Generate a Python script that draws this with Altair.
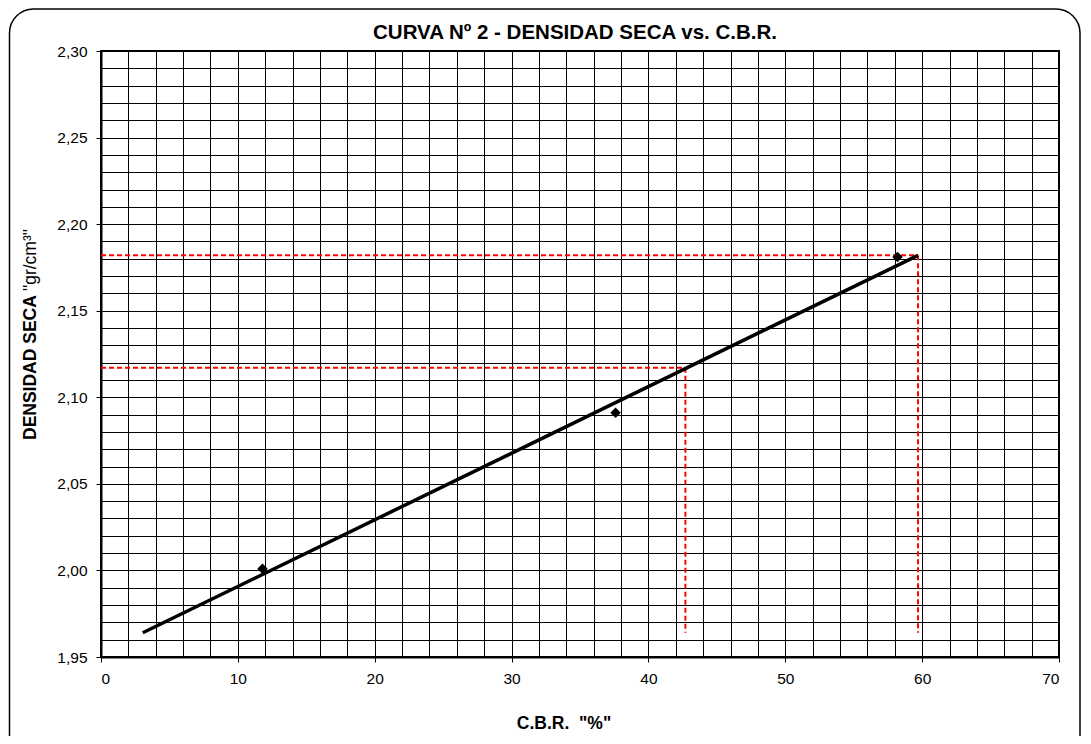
import altair as alt
import pandas as pd

# Measured points
cbr_pts = [11.8, 37.6, 58.2]
dens_pts = [2.001, 2.091, 2.181]

# Fitted line end points
fit_x = [3.05, 59.7]
fit_y = [1.964, 2.182]

# Red dashed reference lines (x, x2, y, y2)
ref_x = [0.0, 59.7, 0.0, 42.7]
ref_x2 = [59.7, 59.7, 42.7, 42.7]
ref_y = [2.182, 2.182, 2.117, 2.117]
ref_y2 = [2.182, 1.964, 2.117, 1.964]

x_grid = [i * 2 for i in range(36)]
y_grid = [round(1.95 + 0.01 * i, 2) for i in range(36)]

title_text = "CURVA Nº 2 - DENSIDAD SECA vs. C.B.R."
ytitle_bold = "DENSIDAD SECA"
ytitle_norm = '"gr/cm³"'
xtitle_text = 'C.B.R.\u00a0\u00a0"%"'

FONT = "Liberation Sans"
W, H = 958, 606

pts = pd.DataFrame({"x": cbr_pts, "y": dens_pts})
fit = pd.DataFrame({"x": fit_x, "y": fit_y})
refs = pd.DataFrame({"x": ref_x, "x2": ref_x2, "y": ref_y, "y2": ref_y2})
one = pd.DataFrame({"a": [0]})

xscale = alt.Scale(domain=[0, 70], nice=False, zero=False)
yscale = alt.Scale(domain=[1.95, 2.30], nice=False, zero=False)

YMAJ = "abs(datum.value*20 - round(datum.value*20)) < 0.000001"

xaxis = alt.Axis(
    values=x_grid, grid=True, gridColor="black", gridWidth=1, gridOpacity=1,
    labelExpr="datum.value % 10 == 0 ? datum.label : ''",
    labelOverlap=False, labelFont=FONT, labelFontSize=15.5, labelColor="black",
    labelPadding=9, tickSize=5, tickColor="black", tickWidth=1,
    tickOpacity={"condition": {"test": "datum.value % 10 == 0", "value": 1}, "value": 0},
    domainColor="black", domainWidth=2, title=None,
)
yaxis = alt.Axis(
    values=y_grid, grid=True, gridColor="black", gridWidth=1, gridOpacity=1,
    labelExpr=YMAJ + " ? replace(format(datum.value, '.2f'), '.', ',') : ''",
    labelOverlap=False, labelFont=FONT, labelFontSize=15.5, labelColor="black",
    labelPadding=9, tickSize=5, tickColor="black", tickWidth=1,
    tickOpacity={"condition": {"test": YMAJ, "value": 1}, "value": 0},
    domainColor="black", domainWidth=2, title=None,
)

base_pts = alt.Chart(pts).mark_point(shape="diamond", filled=True, color="black", size=110, opacity=1).encode(
    x=alt.X("x:Q", scale=xscale, axis=xaxis),
    y=alt.Y("y:Q", scale=yscale, axis=yaxis),
)

line = alt.Chart(fit).mark_line(color="black", strokeWidth=3.5).encode(
    x=alt.X("x:Q", scale=xscale, axis=xaxis),
    y=alt.Y("y:Q", scale=yscale, axis=yaxis),
)

ref = alt.Chart(refs).mark_rule(color="#ff0000", strokeWidth=2, strokeDash=[5, 3]).encode(
    x=alt.X("x:Q", scale=xscale, axis=xaxis),
    x2="x2:Q",
    y=alt.Y("y:Q", scale=yscale, axis=yaxis),
    y2="y2:Q",
)

frame = alt.Chart(one).mark_rect(filled=False, stroke="black", strokeWidth=1.5, cornerRadius=24).encode(
    x=alt.value(-91.5), x2=alt.value(979), y=alt.value(-42), y2=alt.value(720)
)

title = alt.Chart(one).mark_text(font=FONT, fontSize=20.5, fontWeight="bold", color="black",
                                 align="center", baseline="middle").encode(
    x=alt.value(W / 2 - 5), y=alt.value(-18), text=alt.value(title_text)
)

yt1 = alt.Chart(one).mark_text(font=FONT, fontSize=17.5, fontWeight="bold", color="black",
                               align="left", baseline="middle", angle=270).encode(
    x=alt.value(-70), y=alt.value(389), text=alt.value(ytitle_bold)
)
yt2 = alt.Chart(one).mark_text(font=FONT, fontSize=17.5, color="black",
                               align="right", baseline="middle", angle=270).encode(
    x=alt.value(-70), y=alt.value(178), text=alt.value(ytitle_norm)
)

xt = alt.Chart(one).mark_text(font=FONT, fontSize=17.5, fontWeight="bold", color="black",
                              align="center", baseline="middle").encode(
    x=alt.value(463), y=alt.value(673), text=alt.value(xtitle_text)
)

chart = alt.layer(ref, line, base_pts, frame, title, yt1, yt2, xt).properties(
    width=W, height=H,
    padding={"left": 93, "top": 43, "right": 24, "bottom": 79},
    autosize=alt.AutoSizeParams(type="none"),
    background="white",
).configure_view(stroke="black", strokeWidth=2)

chart.save("out.html", embed_options={"renderer": "svg", "actions": False})
